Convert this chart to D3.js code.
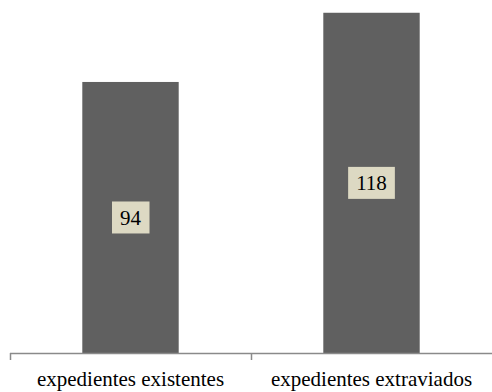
<!DOCTYPE html>
<html>
<head>
<meta charset="utf-8">
<script src="https://cdn.jsdelivr.net/npm/d3@7"></script>
<style>
  html, body { margin: 0; padding: 0; background: #ffffff; }
  svg { display: block; }
</style>
</head>
<body>
<svg id="chart" width="492" height="392"></svg>
<script>
// Expedientes: existentes vs. extraviados
const categories = ["expedientes existentes", "expedientes extraviados"];
const values = [94, 118];
const yDomain = [0, 120];

const width = 492, height = 392;
const margin = { left: 10, right: 0, top: 7, bottom: 39 };
const baseY = height - margin.bottom;

const svg = d3.select("#chart");

const x = d3.scaleBand()
  .domain(categories)
  .range([margin.left, width - margin.right])
  .paddingInner(0.6)
  .paddingOuter(0.3);

const y = d3.scaleLinear()
  .domain(yDomain)
  .range([baseY, margin.top]);

const data = categories.map((c, i) => ({ category: c, value: values[i] }));

// bars
svg.append("g")
  .selectAll("rect")
  .data(data)
  .join("rect")
  .attr("x", d => x(d.category))
  .attr("y", d => y(d.value))
  .attr("width", x.bandwidth())
  .attr("height", d => y(0) - y(d.value))
  .attr("fill", "#606060");

// category axis: baseline with boundary ticks between categories
const axisColor = "#8a8a8a";
const axis = svg.append("g");
axis.append("line")
  .attr("x1", margin.left).attr("x2", width)
  .attr("y1", baseY + 0.5).attr("y2", baseY + 0.5)
  .attr("stroke", axisColor).attr("stroke-width", 1.5);

// boundary ticks at the left edge and between categories
const boundaries = d3.range(categories.length).map(i => x(categories[i]) - x.step() * x.paddingOuter());
axis.selectAll("line.tick")
  .data(boundaries)
  .join("line")
  .attr("class", "tick")
  .attr("x1", d => Math.round(d) + 0.5)
  .attr("x2", d => Math.round(d) + 0.5)
  .attr("y1", baseY)
  .attr("y2", baseY + 7)
  .attr("stroke", axisColor).attr("stroke-width", 1.5);

axis.selectAll("text")
  .data(categories)
  .join("text")
  .attr("x", d => x(d) + x.bandwidth() / 2)
  .attr("y", baseY + 33)
  .attr("text-anchor", "middle")
  .attr("font-family", "'Liberation Serif', 'Times New Roman', serif")
  .attr("font-size", 21)
  .attr("fill", "#000")
  .text(d => d);

// value labels in boxes at the middle of each bar
const labels = svg.append("g")
  .selectAll("g")
  .data(data)
  .join("g")
  .attr("transform", d => `translate(${x(d.category) + x.bandwidth() / 2},${(y(d.value) + y(0)) / 2})`);

labels.append("text")
  .attr("text-anchor", "middle")
  .attr("dy", "0.35em")
  .attr("font-family", "'Liberation Serif', 'Times New Roman', serif")
  .attr("font-size", 21)
  .attr("fill", "#000")
  .text(d => d.value)
  .each(function () {
    const bb = this.getBBox();
    const padX = 8, h = 32;
    d3.select(this.parentNode).insert("rect", "text")
      .attr("x", bb.x - padX)
      .attr("y", -h / 2)
      .attr("width", bb.width + 2 * padX)
      .attr("height", h)
      .attr("fill", "#ddd9c3");
  });
</script>
</body>
</html>
